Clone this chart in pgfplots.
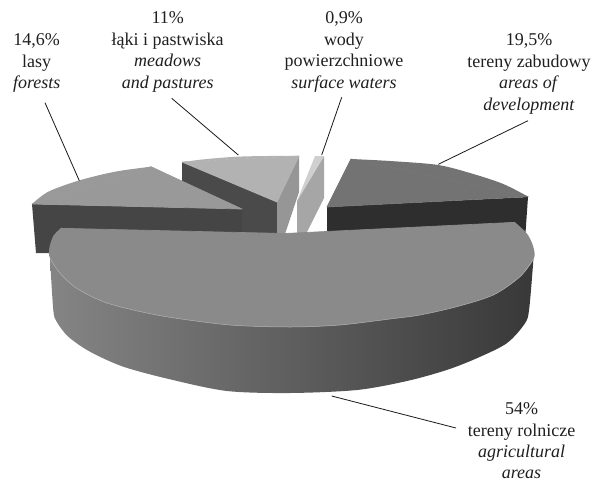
\documentclass[border=0pt]{standalone}
\usepackage{pgfplots}
\pgfplotsset{compat=1.18}
\usepackage{fontspec}
\setmainfont{Liberation Serif}
\tikzset{lab/.style={font=\fontsize{18}{21.4}\selectfont,align=center,text=black!88,inner sep=0pt}}
\begin{document}
\begin{tikzpicture}
\begin{axis}[scale only axis,width=595pt,height=482pt,xmin=0,xmax=595,ymin=0,ymax=482,y dir=reverse,hide axis,clip=false]
\addplot[draw=none] coordinates {(0,0)(595,0)(595,482)(0,482)} --cycle;
% meadows
\addplot[fill=black!71,draw=none] coordinates {(182,162)(277,202)(277,234)(182,234)} --cycle;
\addplot[fill=black!41,draw=none] coordinates {(277,202)(299,156)(299,192)(285,234)(277,234)} --cycle;
\addplot[smooth,fill=black!30,draw=none] coordinates {(182,162)(207,159)(237,156.7)(268,156)(299,156)} --cycle;
\addplot[fill=black!30,draw=black!30,line width=0.7pt,line join=round] coordinates {(182,162)(299,156)(277,202)} --cycle;
% forests
\addplot[fill=black!73,draw=none] coordinates {(32,204)(242,209)(242,234)(60,240)(50,253)(36,253)} --cycle;
\addplot[smooth,fill=black!40,draw=none] coordinates {(32,204)(48.3,191.7)(78.3,180.7)(115,171.7)(151,166.7)} --cycle;
\addplot[fill=black!40,draw=black!40,line width=0.7pt,line join=round] coordinates {(32,204)(151,166.7)(242,209)} --cycle;
% water
\addplot[fill=black!35,draw=none] coordinates {(324,156)(324,198)(306,234)(297,234)(297,201)} --cycle;
\addplot[fill=black!19,draw=none] coordinates {(315,156)(324,156)(297,201)} --cycle;
% development
\addplot[fill=black!82,draw=none] coordinates {(327,207)(528,197)(525,240)(327,240)} --cycle;
\addplot[smooth,fill=black!55,draw=none] coordinates {(351,159)(390,161)(438.3,165)(473.3,174)(503.3,184)(528.3,196.7)} --cycle;
\addplot[fill=black!55,draw=black!55,line width=0.7pt,line join=round] coordinates {(351,159)(528.3,196.7)(327,207)} --cycle;
% agricultural: side
\addplot[smooth,left color=black!48,middle color=black!66,right color=black!78,draw=none] coordinates {(50,258)(53.3,310)(56.7,321.7)(68.3,336.7)(90,351.7)(123.3,366.7)(170,379.3)(227,391)(290,393)(357,390)(407,381)(446.7,370)(476.7,358.3)(506.7,343.3)(525,323.3)(529.3,308)(533.5,258)} --cycle;
% agricultural: top, left arc, right arc and inner part
\addplot[smooth,fill=black!46,draw=none] coordinates {(60.7,228.3)(53.3,236)(49.3,248.3)(50,258.3)(60,273.3)(76.7,288.3)(103.3,301.7)(133.3,310)(170,317.3)(230,325)(290,327)(340,325)} --cycle;
\addplot[smooth,fill=black!46,draw=none] coordinates {(230,325)(290,327)(340,325)(390,319)(420,315)(456.7,306.7)(493.3,295)(520,276.7)(534,258.3)(532.7,245)(526.7,233.3)(515,222.3)} --cycle;
\addplot[fill=black!46,draw=black!46,line width=0.7pt,line join=round] coordinates {(60.7,228.3)(285,233.5)(515,222.3)(290,326)} --cycle;
\addplot[smooth,draw=black!30,line width=0.5pt] coordinates {(50,258.3)(60,273.3)(76.7,288.3)(103.3,301.7)(133.3,310)(170,317.3)(230,325)(290,327)(340,325)(390,319)(420,315)(456.7,306.7)(493.3,295)(520,276.7)(534,258.3)};
% leaders
\addplot[draw=black!90,line width=0.8pt] coordinates {(45,102.7)(79.3,180.7)};
\addplot[draw=black!90,line width=0.8pt] coordinates {(171.7,98.3)(238.3,155)};
\addplot[draw=black!90,line width=0.8pt] coordinates {(341.7,97.3)(321.7,155)};
\addplot[draw=black!90,line width=0.8pt] coordinates {(528,120.7)(438.3,164.3)};
\addplot[draw=black!90,line width=0.8pt] coordinates {(331.7,396)(456,428)};
% labels
\node[lab] at (axis cs:36.7,63) {14,6\%\\lasy\\\textit{forests}};
\node[lab] at (axis cs:167.7,52) {11\%\\łąki i pastwiska\\\textit{meadows}\\\textit{and pastures}};
\node[lab] at (axis cs:344,52) {0,9\%\\wody\\powierzchniowe\\\textit{surface waters}};
\node[lab] at (axis cs:529,74) {19,5\%\\tereny zabudowy\\\textit{areas of}\\\textit{development}};
\node[lab] at (axis cs:521.5,441) {54\%\\tereny rolnicze\\\textit{agricultural}\\\textit{areas}};
\end{axis}
\end{tikzpicture}
\end{document}
